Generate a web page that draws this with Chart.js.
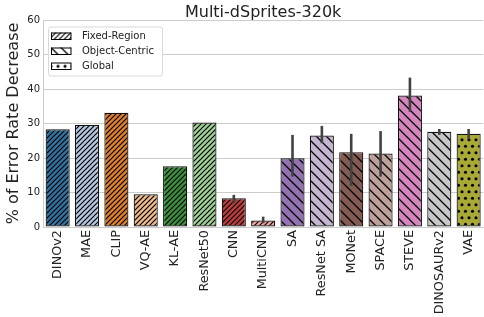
<!DOCTYPE html>
<html>
<head>
<meta charset="utf-8">
<script src="https://cdn.jsdelivr.net/npm/chart.js@4.4.1/dist/chart.umd.min.js"></script>
<style>
  html, body { margin: 0; padding: 0; background: #fff; overflow: hidden; }
  #wrap { width: 487px; height: 317px; position: relative; }
</style>
</head>
<body>
<div id="wrap"><canvas id="errChart"></canvas></div>
<script>
// data
const models = ['DINOv2', 'MAE', 'CLIP', 'VQ-AE', 'KL-AE', 'ResNet50', 'CNN', 'MultiCNN',
                'SA', 'ResNet SA', 'MONet', 'SPACE', 'STEVE', 'DINOSAURv2', 'VAE'];
const decrease = [28.3, 29.6, 33.1, 9.5, 17.6, 30.3, 8.3, 1.9, 19.9, 26.5, 21.7, 21.3, 38.1, 27.6, 27.0];
const errLow  = [null, null, null, null, null, null, 6.9, 1.1, 14.6, 24.3, 11.9, 14.6, 33.4, 26.7, 25.4];
const errHigh = [null, null, null, null, null, null, 9.3, 3.0, 26.7, 29.3, 27.0, 27.8, 43.3, 28.4, 28.4];
const groups = ['Fixed-Region', 'Fixed-Region', 'Fixed-Region', 'Fixed-Region', 'Fixed-Region',
                'Fixed-Region', 'Fixed-Region', 'Fixed-Region', 'Object-Centric', 'Object-Centric',
                'Object-Centric', 'Object-Centric', 'Object-Centric', 'Object-Centric', 'Global'];
const legendGroups = ['Fixed-Region', 'Object-Centric', 'Global'];

// styling
const baseColors = ['#1f77b4', '#aec7e8', '#ff7f0e', '#ffbb78', '#2ca02c', '#98df8a', '#d62728', '#ff9896',
                    '#9467bd', '#c5b0d5', '#8c564b', '#c49c94', '#e377c2', '#c7c7c7', '#bcbd22'];
const hatchOf = { 'Fixed-Region': 'fwd', 'Object-Centric': 'back', 'Global': 'dots' };
const FONT = "'DejaVu Sans', sans-serif";

// seaborn-like desaturation (0.75)
function desat(hex, prop) {
    let r = parseInt(hex.substr(1, 2), 16) / 255, g = parseInt(hex.substr(3, 2), 16) / 255, b = parseInt(hex.substr(5, 2), 16) / 255;
    const mx = Math.max(r, g, b), mn = Math.min(r, g, b);
    const l = (mx + mn) / 2;
    if (mx === mn) return hex;
    const d = mx - mn;
    const s = l > 0.5 ? d / (2 - mx - mn) : d / (mx + mn);
    const c2 = (1 - Math.abs(2 * l - 1)) * s * prop;
    const nmx = l + c2 / 2, nmn = l - c2 / 2;
    const f = v => Math.round((nmn + (v - mn) / d * (nmx - nmn)) * 255);
    return 'rgb(' + f(r) + ',' + f(g) + ',' + f(b) + ')';
}

function makeHatch(kind, bg) {
    const c = document.createElement('canvas');
    const w = kind === 'fwd' ? 5 : kind === 'back' ? 10 : 7;
    const h = kind === 'dots' ? 13 : w;
    c.width = w; c.height = h;
    const x = c.getContext('2d');
    x.fillStyle = bg;
    x.fillRect(0, 0, w, h);
    x.strokeStyle = '#000';
    x.fillStyle = '#000';
    if (kind === 'fwd') {
        x.lineWidth = 1.2;
        x.beginPath();
        x.moveTo(-1, w + 1); x.lineTo(w + 1, -1);
        x.moveTo(-2, 2); x.lineTo(2, -2);
        x.moveTo(w - 2, w + 2); x.lineTo(w + 2, w - 2);
        x.stroke();
    } else if (kind === 'back') {
        x.lineWidth = 1.3;
        x.beginPath();
        x.moveTo(-1, -1); x.lineTo(w + 1, w + 1);
        x.moveTo(w - 2, -2); x.lineTo(w + 2, 2);
        x.moveTo(-2, w - 2); x.lineTo(2, w + 2);
        x.stroke();
    } else {
        const pts = [[3.5, 3.25], [0, 9.75], [7, 9.75]];
        pts.forEach(p => {
            x.beginPath();
            x.arc(p[0], p[1], 1.55, 0, Math.PI * 2);
            x.fill();
        });
    }
    return x.createPattern(c, 'repeat');
}

const barFills = models.map((m, i) => makeHatch(hatchOf[groups[i]], desat(baseColors[i], 0.75)));

// error bars on top of the bars
const errorBars = {
    id: 'errorBars',
    afterDatasetsDraw(chart) {
        const ctx = chart.ctx, y = chart.scales.y;
        const meta = chart.getDatasetMeta(0);
        ctx.save();
        ctx.strokeStyle = '#424242';
        ctx.lineWidth = 2.6;
        meta.data.forEach((bar, i) => {
            if (errLow[i] == null) return;
            ctx.beginPath();
            ctx.moveTo(bar.x, y.getPixelForValue(errLow[i]));
            ctx.lineTo(bar.x, y.getPixelForValue(errHigh[i]));
            ctx.stroke();
        });
        ctx.restore();
    }
};

// title centred on the plot area + legend inside the plot
const decorations = {
    id: 'decorations',
    afterDraw(chart) {
        const ctx = chart.ctx, a = chart.chartArea;
        ctx.save();
        ctx.fillStyle = '#222';
        ctx.font = '16px ' + FONT;
        ctx.textAlign = 'center';
        ctx.textBaseline = 'alphabetic';
        ctx.fillText('Multi-dSprites-320k', (a.left + a.right) / 2, 16.5);

        const lx = a.left + 5, ly = a.top + 6.5;
        ctx.fillStyle = 'rgba(255,255,255,0.85)';
        ctx.strokeStyle = '#d8d8d8';
        ctx.lineWidth = 1;
        ctx.beginPath();
        ctx.roundRect(lx + 0.5, ly + 0.5, 114, 49, 2.5);
        ctx.fill();
        ctx.stroke();
        ctx.font = '10px ' + FONT;
        ctx.textAlign = 'left';
        ctx.textBaseline = 'middle';
        legendGroups.forEach((g, k) => {
            const cy = Math.round(ly + 9 + k * 15.3);
            ctx.save();
            ctx.translate(lx + 3, cy - 3.5);
            ctx.fillStyle = makeHatch(hatchOf[g], '#fff');
            ctx.translate(0, g === 'Global' ? -6 : 0);
            ctx.fillRect(0, g === 'Global' ? 6 : 0, 20, 7);
            ctx.restore();
            ctx.strokeStyle = '#000';
            ctx.strokeRect(lx + 3.5, cy - 3, 19.5, 6.5);
            ctx.fillStyle = '#222';
            ctx.fillText(g, lx + 34, cy);
        });
        ctx.restore();
    }
};

new Chart(document.getElementById('errChart').getContext('2d'), {
    type: 'bar',
    data: {
        labels: models,
        datasets: [{
            data: decrease,
            backgroundColor: barFills,
            borderColor: '#111',
            borderWidth: 1.2,
            borderSkipped: false,
            categoryPercentage: 1.0,
            barPercentage: 0.82
        }]
    },
    options: {
        responsive: true,
        maintainAspectRatio: false,
        animation: false,
        layout: { padding: { top: 20, right: 0, bottom: 0, left: 0 } },
        plugins: {
            legend: { display: false },
            tooltip: { enabled: false }
        },
        scales: {
            x: {
                offset: true,
                grid: { display: false, drawTicks: false },
                border: { display: true, color: '#cccccc' },
                ticks: {
                    minRotation: 90, maxRotation: 90, padding: 3, autoSkip: false,
                    color: '#222', font: { family: FONT, size: 12.8 }
                },
                afterFit: s => { s.height = 90; }
            },
            y: {
                min: 0, max: 60,
                ticks: { stepSize: 10, padding: 3, color: '#222', font: { family: FONT, size: 10 } },
                grid: { color: '#cccccc', drawTicks: false },
                border: { display: true, color: '#cccccc' },
                title: {
                    display: true, text: '% of Error Rate Decrease', color: '#222',
                    font: { family: FONT, size: 16 }, padding: { top: 4, bottom: 0 }
                },
                afterFit: s => { s.width = 43; }
            }
        }
    },
    plugins: [errorBars, decorations]
});
</script>
</body>
</html>
